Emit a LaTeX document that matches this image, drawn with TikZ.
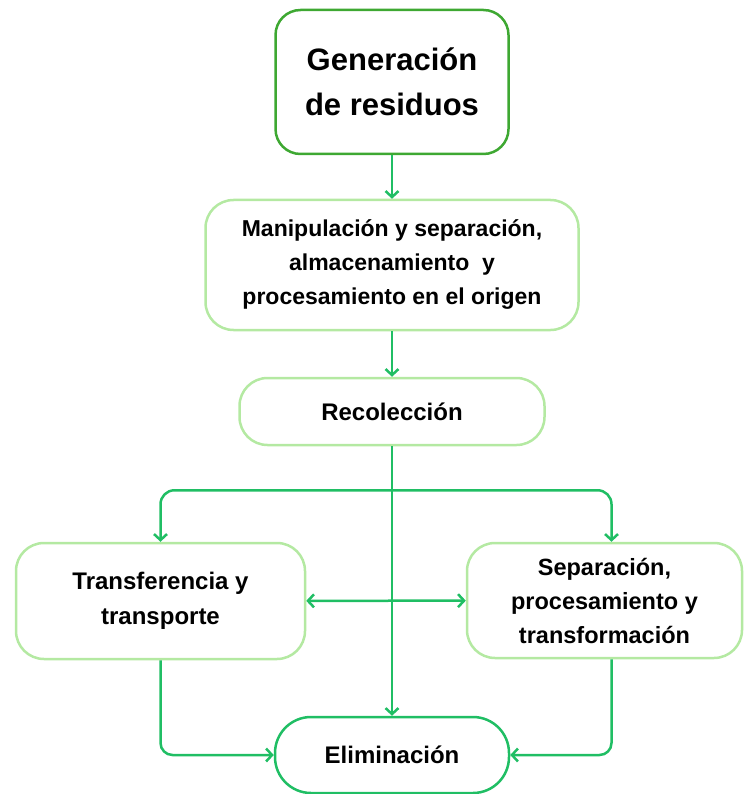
\documentclass[tikz,border=0pt]{standalone}
\usepackage{fontspec}
\setmainfont{Liberation Sans}
\usepackage{tikz}
\usetikzlibrary{arrows.meta, calc}

\definecolor{boxdark}{RGB}{62,168,50}
\definecolor{boxlight}{RGB}{180,233,162}
\definecolor{flowgreen}{RGB}{32,190,100}

\begin{document}
\begin{tikzpicture}
          [
            x=1pt, y=-1pt,
            box/.style={draw=boxlight, line width=2.5pt, rounded corners=28pt,
              align=center, inner sep=0pt,
              font=\bfseries\fontsize{23}{34}\selectfont},
            topbox/.style={box, draw=boxdark, rounded corners=25pt,
              font=\bfseries\fontsize{31}{45}\selectfont},
            endbox/.style={box, draw=flowgreen, rounded corners=36pt,
              font=\bfseries\fontsize{24}{34}\selectfont},
            flow/.style={draw=flowgreen, line width=2.5pt,
              -{Straight Barb[length=6pt,width=13pt]}},
            twoway/.style={flow,
              {Straight Barb[length=6pt,width=13pt]}-{Straight Barb[length=6pt,width=13pt]}}
          ]
          \useasboundingbox (0,0) rectangle (744,794);
          % boxes
          \node [topbox, minimum width=233pt, minimum height=144pt] (gen) at (392,82)
            {Generación\\de residuos};
          \node [box, minimum width=373pt, minimum height=130pt] (manip) at (392,265)
            {Manipulación y separación,\\almacenamiento\ \ y\\procesamiento en el origen};
          \node [box, minimum width=305pt, minimum height=67pt,
            font=\bfseries\fontsize{24}{34}\selectfont] (recol) at (392,411.5)
            {Recolección};
          \node [box, minimum width=289pt, minimum height=116pt,
            font=\bfseries\fontsize{24}{35}\selectfont] (transf) at (160.5,601)
            {Transferencia y\\transporte};
          \node [box, minimum width=275pt, minimum height=115pt,
            font=\bfseries\fontsize{23.5}{34}\selectfont] (separ) at (604.5,600.5)
            {Separación,\\procesamiento y\\transformación};
          \node [endbox, minimum width=234pt, minimum height=76pt] (elim) at (392,755)
            {Eliminación};
          % main line
          \draw [flow] (gen) -- (manip);
          \draw [flow] (manip) -- (recol);
          \draw [flow] (recol) -- (elim);
          % branches
          \coordinate (split) at ($(recol.south)+(0,44)$);
          \draw [flow, rounded corners=14pt] (split) -| (transf.north);
          \draw [flow, rounded corners=14pt] (split) -| ($(separ.north)+(7,0)$);
          \draw [twoway] (transf) -- (separ);
          \draw [flow, rounded corners=12pt] (transf.south) |- (elim.west);
          \draw [flow, rounded corners=12pt] ($(separ.south)+(7,0)$) |- (elim.east);
        \end{tikzpicture}
\end{document}
